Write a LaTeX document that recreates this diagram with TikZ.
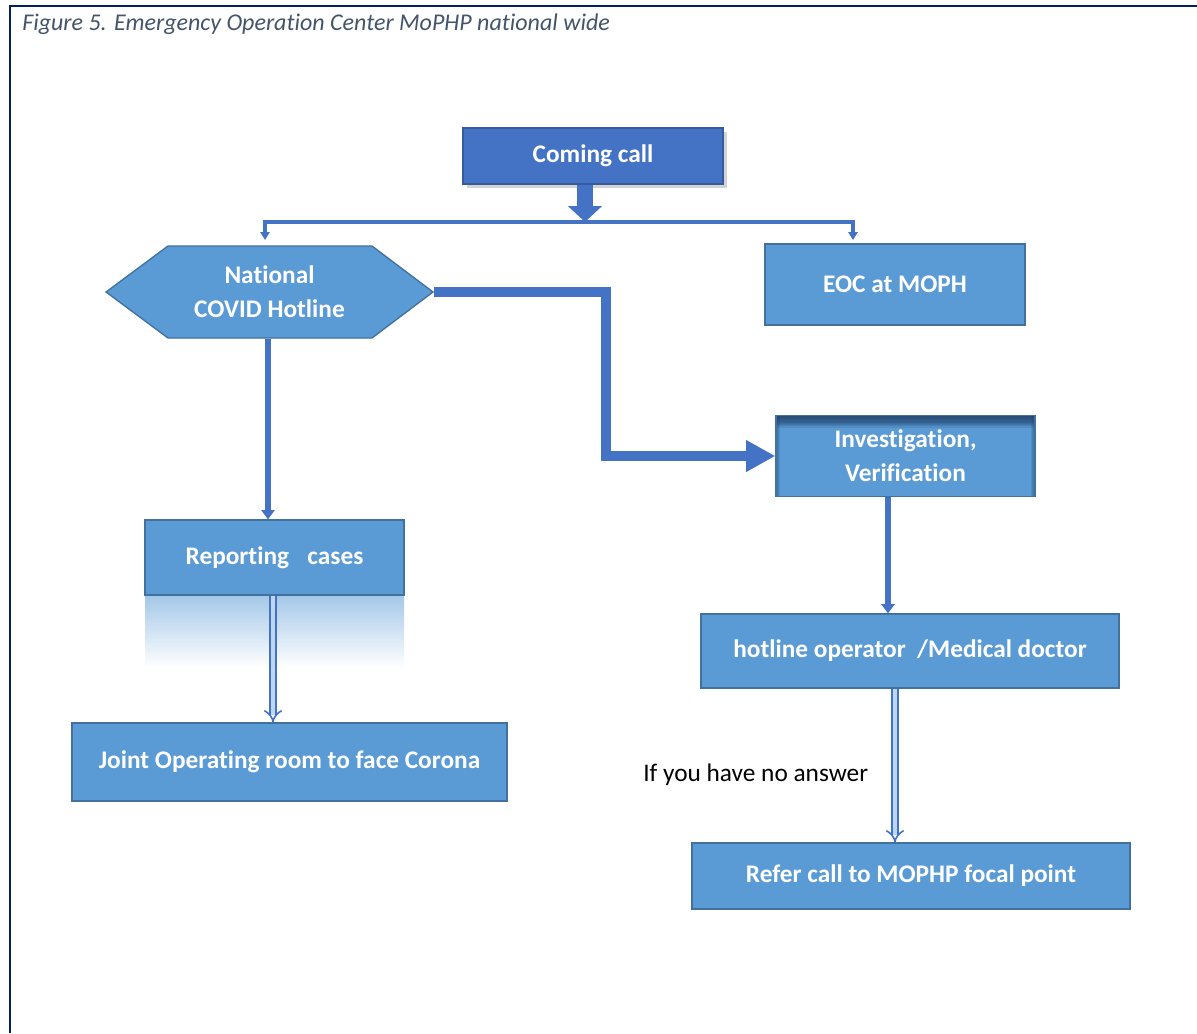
\documentclass[tikz,border=0pt]{standalone}
\usepackage{fontspec}
\setmainfont{Carlito}[Ligatures=NoCommon]
\usetikzlibrary{arrows.meta,shadows}
\definecolor{boxfill}{HTML}{5B9BD5}
\definecolor{boxdraw}{HTML}{41719C}
\definecolor{darkblue}{HTML}{4472C4}
\definecolor{navy}{HTML}{002060}
\definecolor{titlecol}{HTML}{44546A}
\definecolor{bevel}{HTML}{1F3F66}
\tikzset{
  box/.style={draw=boxdraw, line width=1pt, fill=boxfill, text=white,
    font=\bfseries\fontsize{19}{25.5}\selectfont, align=center, inner sep=0pt},
  bigarrow/.style={draw=darkblue, line width=7.5pt,
    -{Triangle[width=22.5pt,length=22pt]}},
  midarrow/.style={draw=darkblue, line width=4.5pt,
    -{Triangle[width=10pt,length=7pt]}},
  thinarrow/.style={draw=darkblue, line width=3pt,
    -{Triangle[width=7pt,length=6pt]}},
  dblarrow/.style={draw=darkblue, double=boxfill!40!white, line width=1.2pt,
    double distance=3.5pt, -{Implies[]}},
  notelabel/.style={font=\fontsize{19}{22}\selectfont, text=black, inner sep=0pt}
}
\begin{document}
\begin{tikzpicture}[x=0.75pt,y=-0.75pt]
\useasboundingbox (0,0) rectangle (1197,1033);
% frame
\draw[navy, line width=2.2pt] (10,1033) -- (10,6) -- (1197,6);
\node[anchor=west, text=titlecol, font=\itshape\fontsize{18}{22}\selectfont, inner sep=0pt] (title) at (22,24)
  {Figure 5. Emergency Operation Center MoPHP national wide};

% nodes
\node[box, fill=darkblue, draw=darkblue!80!black, drop shadow={opacity=0.35, shadow xshift=3pt, shadow yshift=-3pt},
  minimum width=260*0.75pt, minimum height=56*0.75pt] (coming) at (593,156) {Coming call};

\draw[draw=boxdraw, line width=1pt, fill=boxfill]
  (106,292) -- (168,246) -- (372,246) -- (433,292) -- (372,338) -- (168,338) -- cycle;
\node[box, draw=none, fill=none, minimum width=327*0.75pt, minimum height=92*0.75pt] (hex) at (269.5,292)
  {National\\COVID Hotline};

\node[box, minimum width=260*0.75pt, minimum height=81*0.75pt] (eoc) at (895,284.5) {EOC at MOPH};

\node[box, minimum width=259*0.75pt, minimum height=81*0.75pt,
  path picture={
    \foreach \k in {0,...,9} {
      \fill[bevel, opacity=0.16] (path picture bounding box.north west)
        rectangle ([yshift=-\k*0.9pt-0.9pt]path picture bounding box.north east);
    }
    \foreach \k in {0,...,3} {
      \fill[bevel, opacity=0.15] (path picture bounding box.north west)
        rectangle ([xshift=\k*0.8pt+0.8pt]path picture bounding box.south west);
      \fill[bevel, opacity=0.15] (path picture bounding box.north east)
        rectangle ([xshift=-\k*0.8pt-0.8pt]path picture bounding box.south east);
    }}]
  (inv) at (905.5,456) {Investigation,\\Verification};

\node[box, minimum width=259*0.75pt, minimum height=75*0.75pt] (rep) at (274.5,557.5) {Reporting\enspace\ cases};
\shade[top color=boxfill!55!white, bottom color=white] (145,596) rectangle (404,668);

\node[box, minimum width=435*0.75pt, minimum height=78*0.75pt] (joint) at (289.5,762) {Joint Operating room to face Corona};
\node[box, minimum width=418*0.75pt, minimum height=74*0.75pt] (hot) at (910,651) {hotline operator\ \ /Medical doctor};
\node[box, minimum width=438*0.75pt, minimum height=66*0.75pt] (refer) at (911,876) {Refer call to MOPHP focal point};

\node[notelabel, anchor=west] (note) at (643,775) {If you have no answer};

% connector helpers
\coordinate (split) at (585,222);
\coordinate (hexin) at (265,240);
\coordinate (eocin) at (853,240);
\coordinate (xrep) at (268,0);
\coordinate (xdbl1) at (273,0);
\coordinate (xinv) at (888,0);
\coordinate (xdbl2) at (895,0);

% connectors
\draw[bigarrow, -{Triangle[width=25pt,length=12pt]}, line width=12pt] (coming.south -| split) -- (split);
\draw[thinarrow] (split) -| (hexin);
\draw[thinarrow] (split) -| (eocin);
\draw[bigarrow] (hex.east) -- ++(172,0) |- (inv.west);
\draw[midarrow] (hex.south -| xrep) -- (rep.north -| xrep);
\draw[dblarrow] (rep.south -| xdbl1) -- (joint.north -| xdbl1);
\draw[midarrow] (inv.south -| xinv) -- (hot.north -| xinv);
\draw[dblarrow] (hot.south -| xdbl2) -- (refer.north -| xdbl2);
\end{tikzpicture}
\end{document}
